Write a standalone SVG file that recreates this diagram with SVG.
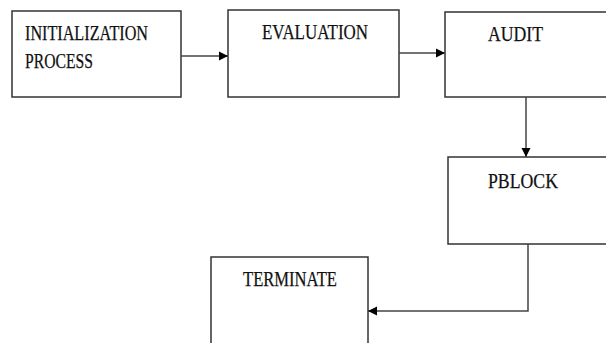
<svg xmlns="http://www.w3.org/2000/svg" width="606" height="343" viewBox="0 0 606 343">
<style>
.box{fill:#fff;stroke:#333;stroke-width:1.5}
.lbl{font-family:"Liberation Serif","Times New Roman",serif;font-size:21px;fill:#111;stroke:#111;stroke-width:0.25}
.con{fill:none;stroke:#444;stroke-width:1.5}
</style>
<defs>
<marker id="ah" viewBox="0 0 10 10" refX="10" refY="5" markerWidth="9" markerHeight="10" markerUnits="userSpaceOnUse" orient="auto">
<path d="M0,0 L10,5 L0,10 Z" fill="#000"/>
</marker>
</defs>
<rect width="606" height="343" fill="#fff"/>
<g id="init">
<rect class="box" x="12" y="11" width="169" height="86"/>
<text class="lbl" x="25" y="39.5" textLength="123" lengthAdjust="spacingAndGlyphs">INITIALIZATION</text>
<text class="lbl" x="25" y="68" textLength="68" lengthAdjust="spacingAndGlyphs">PROCESS</text>
</g>
<g id="evaluation">
<rect class="box" x="228" y="10" width="171" height="87"/>
<text class="lbl" x="262" y="39" textLength="106" lengthAdjust="spacingAndGlyphs">EVALUATION</text>
</g>
<g id="audit">
<rect class="box" x="445" y="12" width="170" height="85"/>
<text class="lbl" x="488" y="41" textLength="55" lengthAdjust="spacingAndGlyphs">AUDIT</text>
</g>
<g id="pblock">
<rect class="box" x="448" y="157" width="170" height="87"/>
<text class="lbl" x="488" y="187.5" textLength="70" lengthAdjust="spacingAndGlyphs">PBLOCK</text>
</g>
<g id="terminate">
<rect class="box" x="211" y="257" width="157" height="100"/>
<text class="lbl" x="243" y="285.5" textLength="94" lengthAdjust="spacingAndGlyphs">TERMINATE</text>
</g>
<g id="connectors">
<path class="con" d="M181,56 H228" marker-end="url(#ah)"/>
<path class="con" d="M399,53 H445" marker-end="url(#ah)"/>
<path class="con" d="M526,97 V157" marker-end="url(#ah)"/>
<path class="con" d="M528,244 V311 H368" marker-end="url(#ah)"/>
</g>
</svg>
